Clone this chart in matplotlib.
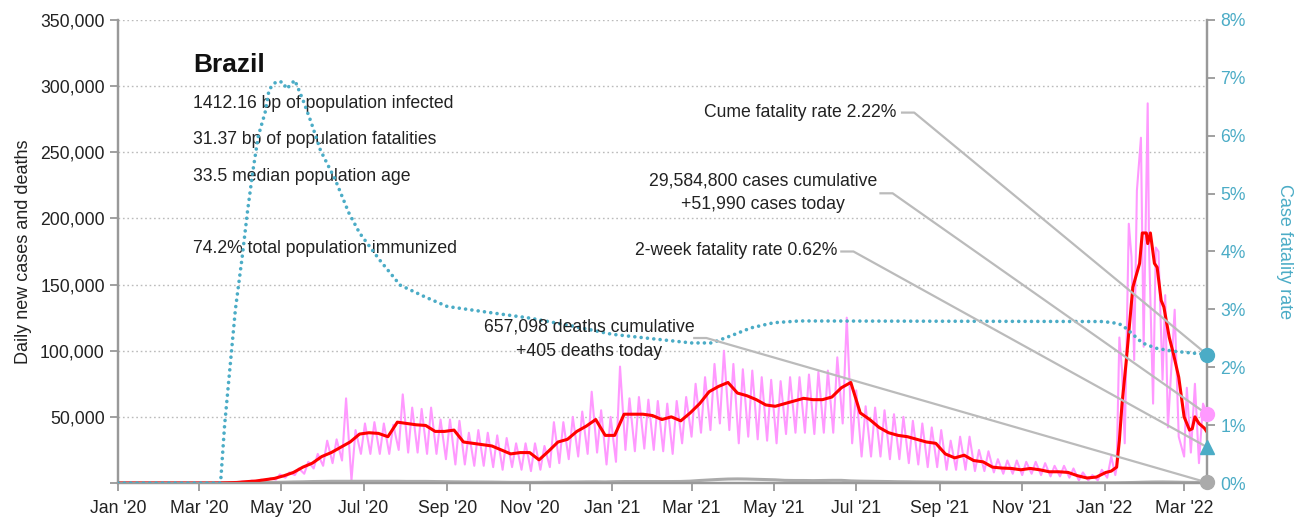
import pandas as pd
import numpy as np
import matplotlib
matplotlib.use('Agg')
import matplotlib.pyplot as plt
import matplotlib.dates as mdates
from matplotlib.ticker import FuncFormatter, MultipleLocator

plt.rcParams['font.family'] = ['Liberation Sans', 'DejaVu Sans']

#==================== data (cases in thousands) ====================#
week_start = '2020-03-01'   # weekly values below start here, every 7 days

# 7-day average new cases
avg_weekly = [0, 0, 0.05, 0.2, 0.4,
              1.0, 1.5, 2.5, 3.5,
              5.5, 8, 12, 15, 20,
              23, 27, 31, 37,
              38, 37.5, 35, 46,
              45, 44, 43.5, 39, 39,
              40, 31, 30, 29,
              28, 25, 22, 23, 23,
              17.5, 24, 31, 33,
              39, 43, 48, 36,
              36, 52, 52, 52,
              51, 48, 50, 47,
              53, 60, 69, 73, 76,
              68, 66, 63, 59,
              58, 60, 62, 64, 63,
              63, 65, 72, 76,
              53, 48, 42, 38,
              36, 35, 33, 31, 30,
              22, 19, 21, 17,
              16, 12, 11.3, 11, 10,
              11, 10, 8.5, 8.5,
              8, 5.5, 3.8, 4.5, 8]

# daily new cases: weekly low (Monday) and high (Thursday)
lo_weekly = [0, 0, 0.02, 0.1, 0.3,
             0.7, 1.0, 1.5, 2.5,
             4, 6, 7, 11, 13,
             15, 17, 2, 22,
             22, 22, 22, 25,
             23, 23, 22, 22, 18,
             14, 14, 13, 13,
             12, 10, 12, 10, 9,
             10, 12, 15, 18,
             20, 22, 23, 14,
             16, 25, 24, 26,
             25, 24, 22, 30,
             35, 38, 40, 45, 40,
             30, 35, 33, 32,
             30, 37, 38, 38, 37,
             38, 38, 45, 30,
             20, 20, 20, 18,
             18, 15, 14, 12, 12,
             10, 10, 10, 9,
             9, 8, 7, 7, 6,
             7, 6, 5, 5,
             4, 2, 2, 2, 4]
hi_weekly = [0, 0.05, 0.2, 0.5, 1.1,
             1.8, 2.5, 3.5, 6.5,
             8, 11, 16, 22, 32,
             33, 64, 40, 45,
             46, 45, 44, 67,
             57, 56, 57, 48, 48,
             47, 38, 40, 38,
             36, 34, 30, 30, 30,
             28, 46, 46, 50,
             54, 69, 55, 50,
             88, 64, 65, 63,
             62, 60, 62, 65,
             75, 80, 90, 100, 90,
             86, 85, 80, 78,
             77, 80, 80, 82, 84,
             85, 95, 125, 70,
             58, 57, 55, 52,
             50, 47, 45, 42, 40,
             32, 35, 35, 25,
             24, 18, 17, 17, 16,
             16, 15, 13, 13,
             11, 8, 6, 10, 20]

# 7-day average new deaths
deaths_weekly = [0, 0, 0, 0.02, 0.1,
                 0.2, 0.25, 0.35, 0.45,
                 0.6, 0.8, 0.9, 1.1, 1.2,
                 1.3, 1.3, 1.3, 1.3,
                 1.3, 1.3, 1.3, 1.3,
                 1.2, 1.2, 1.2, 1.1, 1.0,
                 0.9, 0.85, 0.8, 0.75,
                 0.7, 0.6, 0.5, 0.5, 0.45,
                 0.5, 0.6, 0.6, 0.7,
                 0.75, 0.85, 0.9, 0.8,
                 1.0, 1.1, 1.1, 1.1,
                 1.1, 1.1, 1.1, 1.15,
                 1.4, 1.9, 2.3, 2.7, 3.0,
                 3.1, 3.0, 2.8, 2.6,
                 2.4, 2.0, 1.9, 1.9, 1.8,
                 1.9, 2.0, 2.0, 1.6,
                 1.4, 1.3, 1.2, 1.1,
                 0.95, 0.9, 0.8, 0.75, 0.7,
                 0.6, 0.55, 0.55, 0.5,
                 0.45, 0.4, 0.35, 0.3, 0.28,
                 0.25, 0.25, 0.22, 0.2,
                 0.18, 0.12, 0.1, 0.1, 0.12]

# Omicron wave 2022
avg_2022_dates = ['2022-01-06', '2022-01-10', '2022-01-12', '2022-01-14', '2022-01-17',
                  '2022-01-22', '2022-01-27', '2022-01-29', '2022-02-01', '2022-02-02',
                  '2022-02-04', '2022-02-07', '2022-02-09', '2022-02-12', '2022-02-14',
                  '2022-02-18', '2022-02-21', '2022-02-25', '2022-03-01', '2022-03-05',
                  '2022-03-07', '2022-03-09', '2022-03-12', '2022-03-16', '2022-03-18']
avg_2022 = [9, 12, 32, 60, 91,
            148, 166, 189, 189, 181,
            189, 166, 163, 138, 133,
            110, 98, 80, 50, 40,
            41, 50, 45, 41.5, 38.5]

cases_2022_dates = ['2022-01-09', '2022-01-10', '2022-01-12', '2022-01-14', '2022-01-16',
                    '2022-01-19', '2022-01-21', '2022-01-23', '2022-01-25', '2022-01-28',
                    '2022-01-30', '2022-02-02', '2022-02-03', '2022-02-06', '2022-02-08',
                    '2022-02-10', '2022-02-13', '2022-02-15', '2022-02-17', '2022-02-22',
                    '2022-02-25', '2022-03-01', '2022-03-03', '2022-03-06', '2022-03-09',
                    '2022-03-12', '2022-03-15', '2022-03-18']
cases_2022 = [6, 12, 110, 85, 30,
              196, 171, 93, 221, 261,
              103, 287, 178, 60, 178,
              175, 78, 142, 42, 131,
              35, 20, 72, 23, 75,
              15, 60, 51.99]

deaths_2022_dates = ['2022-01-09', '2022-01-16', '2022-01-23', '2022-01-30', '2022-02-06',
                     '2022-02-13', '2022-02-20', '2022-02-27', '2022-03-06', '2022-03-13',
                     '2022-03-18']
deaths_2022 = [0.15, 0.25, 0.4, 0.6, 0.75, 0.8, 0.7, 0.55, 0.45, 0.4, 0.405]

# case fatality rate (%)
cfr_dates = ['2020-01-01', '2020-03-17', '2020-03-20', '2020-03-24', '2020-03-28',
             '2020-04-02', '2020-04-06', '2020-04-10', '2020-04-14', '2020-04-19',
             '2020-04-22', '2020-04-27', '2020-05-02', '2020-05-05', '2020-05-11',
             '2020-05-17', '2020-05-23', '2020-05-30', '2020-06-10', '2020-06-20',
             '2020-06-28', '2020-07-13', '2020-07-28', '2020-08-16', '2020-09-01',
             '2020-10-01', '2020-11-01', '2020-12-01', '2021-01-01', '2021-02-01',
             '2021-03-01', '2021-03-16', '2021-04-01', '2021-04-14', '2021-05-01',
             '2021-05-20', '2021-12-31', '2022-01-10', '2022-01-14', '2022-01-21',
             '2022-01-29', '2022-02-08', '2022-02-20', '2022-03-05', '2022-03-18']
cfr = [0, 0, 1.0, 2.0, 3.0,
       3.9, 4.7, 5.4, 6.0, 6.4,
       6.8, 6.93, 6.93, 6.81, 6.96,
       6.62, 6.24, 5.75, 5.24, 4.67,
       4.32, 3.85, 3.42, 3.21, 3.05,
       2.95, 2.85, 2.72, 2.57, 2.49,
       2.42, 2.42, 2.56, 2.68, 2.77,
       2.8, 2.79, 2.76, 2.73, 2.59,
       2.42, 2.33, 2.28, 2.25, 2.22]

country = 'Brazil'
stats = ['1412.16 bp of population infected',
         '31.37 bp of population fatalities',
         '33.5 median population age',
         '',
         '74.2% total population immunized']
cases_cum = '29,584,800'
cases_today = 51.990
deaths_cum = '657,098'
deaths_today = 0.405
cfr_cume = 2.22
cfr_2wk = 0.62

#==================== series assembly ====================#
start = pd.Timestamp('2020-01-01')
end = pd.Timestamp('2022-03-18')
weeks = pd.date_range(week_start, periods=len(avg_weekly), freq='7D')

avg_x = [start] + list(weeks) + list(pd.to_datetime(avg_2022_dates))
avg_y = np.array([0] + avg_weekly + avg_2022) * 1000

daily_x = [start]
daily_y = [0]
for w, lo, hi in zip(weeks, lo_weekly, hi_weekly):
    daily_x += [w + pd.Timedelta(days=1), w + pd.Timedelta(days=4)]
    daily_y += [lo, hi]
daily_x += list(pd.to_datetime(cases_2022_dates))
daily_y = np.array(daily_y + cases_2022) * 1000

deaths_x = [start] + list(weeks) + list(pd.to_datetime(deaths_2022_dates))
deaths_y = np.array([0] + deaths_weekly + deaths_2022) * 1000

cfr_x = pd.to_datetime(cfr_dates)

#==================== plot ====================#
pink = '#ff99ff'
red = '#ff0000'
teal = '#4bacc6'
gray = '#aaaaaa'
axis_gray = '#999999'
text_c = '#222222'
fs = 12.7

fig = plt.figure(figsize=(13.01, 5.22), dpi=100)
ax = fig.add_axes([0.0907, 0.0747, 0.8371, 0.887])
ax2 = ax.twinx()

ax.plot(daily_x, daily_y, color=pink, lw=1.5, zorder=2)
ax.plot(deaths_x, deaths_y, color=gray, lw=2.2, zorder=3)
ax.plot(avg_x, avg_y, color=red, lw=2.2, zorder=4)
ax2.plot(cfr_x, cfr, color=teal, lw=2.6, ls=(0, (0.01, 1.75)), dash_capstyle='round', zorder=3)

ax.set_xlim(start, end)
ax.set_ylim(0, 350000)
ax2.set_ylim(0, 8)

ax.yaxis.set_major_locator(MultipleLocator(50000))
ax.yaxis.set_major_formatter(FuncFormatter(lambda v, p: '' if v == 0 else f'{int(v):,}'))
ax2.yaxis.set_major_locator(MultipleLocator(1))
ax2.yaxis.set_major_formatter(FuncFormatter(lambda v, p: f'{int(round(v))}%'))
ax.xaxis.set_major_locator(mdates.MonthLocator(bymonth=[1, 3, 5, 7, 9, 11]))
ax.xaxis.set_major_formatter(mdates.DateFormatter("%b '%y"))

ax.grid(axis='y', color='#bbbbbb', ls=(0, (1.2, 2)), lw=1)
ax.set_axisbelow(True)

for a in (ax, ax2):
    a.spines['top'].set_visible(False)
    for s in ('left', 'right', 'bottom'):
        a.spines[s].set_color(axis_gray)
        a.spines[s].set_linewidth(1.6)
ax.tick_params(axis='both', colors=axis_gray, labelcolor=text_c, labelsize=fs, length=6, width=1.3)
ax.tick_params(axis='x', pad=6)
ax2.tick_params(axis='y', colors=axis_gray, labelcolor=teal, labelsize=fs, length=6, width=1.3)

ax.set_ylabel('Daily new cases and deaths', fontsize=13, color=text_c, labelpad=6)
ax2.set_ylabel('Case fatality rate', fontsize=13, color=teal, rotation=270, labelpad=34)

# title block
ax.text(0.0689, 0.903, country, transform=ax.transAxes, fontsize=19, weight='bold',
        color='#111111', va='center', ha='left')
for i, line in enumerate(stats):
    ax.text(0.0689, 0.819 - i * 0.078, line, transform=ax.transAxes, fontsize=fs,
            color=text_c, va='center', ha='left')


def cases_to_pct(v):
    disp = ax.transData.transform((0, v))
    return ax2.transData.inverted().transform(disp)[1]


# end markers
ax2.plot(end, cfr_cume, 'o', color=teal, ms=10, clip_on=False, zorder=10)
ax2.plot(end, cases_to_pct(cases_today * 1000), 'o', color=pink, ms=10, clip_on=False, zorder=10)
ax2.plot(end, cfr_2wk, '^', color=teal, ms=10, clip_on=False, zorder=10)
ax2.plot(end, cases_to_pct(deaths_today * 1000), 'o', color=gray, ms=10, clip_on=False, zorder=10)

lead_c = '#bbbbbb'
notes = [
    # text, x, y (cases), ha, stub start, stub end, stub y, target (pct)
    (f'Cume fatality rate {cfr_cume:.2f}%', '2021-07-31', 280000, 'right',
     '2021-08-04', '2021-08-13', 280000, cfr_cume),
    (f'{cases_cum} cases cumulative\n+{cases_today * 1000:,.0f} cases today', '2021-04-23', 219500, 'center',
     '2021-07-19', '2021-07-28', 219000, cases_to_pct(cases_today * 1000)),
    (f'2-week fatality rate {cfr_2wk:.2f}%', '2021-06-17', 176000, 'right',
     '2021-06-20', '2021-06-29', 175000, cfr_2wk),
    (f'{deaths_cum} deaths cumulative\n+{deaths_today * 1000:,.0f} deaths today', '2020-12-15', 108500, 'center',
     '2021-03-03', '2021-03-12', 109600, cases_to_pct(deaths_today * 1000)),
]
for txt, tx, ty, ha, s0, s1, sy, target in notes:
    ax2.text(pd.Timestamp(tx), cases_to_pct(ty), txt, ha=ha, va='center', fontsize=fs,
             color=text_c, linespacing=1.55, zorder=9)
    ys = cases_to_pct(sy)
    ax2.plot([pd.Timestamp(s0), pd.Timestamp(s1), end], [ys, ys, target],
             color=lead_c, lw=1.6, clip_on=False, zorder=8)

fig.savefig('out.png', dpi=100)
